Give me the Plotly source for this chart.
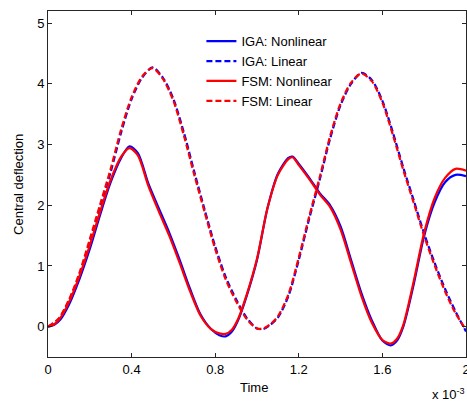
import plotly.graph_objects as go

# Time in units of 1e-3 s
t_iga_nl = [0, 0.03, 0.06, 0.1, 0.15, 0.2, 0.25, 0.3, 0.35, 0.39, 0.43, 0.48, 0.53, 0.58, 0.63, 0.68,
            0.73, 0.78, 0.82, 0.85, 0.88, 0.91, 0.95, 1.0, 1.05, 1.1, 1.15, 1.17, 1.2, 1.25, 1.3, 1.35,
            1.4, 1.45, 1.5, 1.55, 1.6, 1.64, 1.67, 1.7, 1.75, 1.8, 1.85, 1.9, 1.95, 2.0]
v_iga_nl = [0.0, 0.03, 0.12, 0.36, 0.78, 1.28, 1.85, 2.38, 2.78, 2.97, 2.86, 2.36, 1.95, 1.55, 1.1, 0.62,
            0.2, -0.04, -0.14, -0.16, -0.08, 0.11, 0.5, 1.1, 1.95, 2.52, 2.78, 2.8, 2.68, 2.45, 2.2, 2.0,
            1.65, 1.1, 0.55, 0.1, -0.23, -0.31, -0.23, 0.0, 0.7, 1.5, 2.05, 2.38, 2.5, 2.48]

t_fsm_nl = [0, 0.03, 0.06, 0.1, 0.15, 0.2, 0.25, 0.3, 0.35, 0.39, 0.43, 0.48, 0.53, 0.58, 0.63, 0.68,
            0.73, 0.78, 0.82, 0.85, 0.88, 0.91, 0.95, 1.0, 1.05, 1.1, 1.15, 1.17, 1.2, 1.25, 1.3, 1.35,
            1.4, 1.45, 1.5, 1.55, 1.6, 1.64, 1.67, 1.7, 1.75, 1.8, 1.85, 1.9, 1.95, 2.0]
v_fsm_nl = [0.0, 0.04, 0.15, 0.4, 0.83, 1.34, 1.9, 2.42, 2.8, 2.94, 2.82, 2.32, 1.9, 1.5, 1.05, 0.58,
            0.18, -0.04, -0.11, -0.12, -0.05, 0.13, 0.52, 1.12, 1.95, 2.5, 2.76, 2.79, 2.66, 2.43, 2.18, 1.97,
            1.6, 1.05, 0.5, 0.06, -0.22, -0.28, -0.2, 0.03, 0.75, 1.55, 2.12, 2.45, 2.6, 2.57]

t_iga_lin = [0, 0.05, 0.1, 0.15, 0.2, 0.25, 0.3, 0.35, 0.4, 0.45, 0.5, 0.55, 0.6, 0.65, 0.7, 0.75,
             0.8, 0.85, 0.9, 0.95, 1.0, 1.03, 1.06, 1.1, 1.15, 1.2, 1.25, 1.3, 1.35, 1.4, 1.45, 1.5,
             1.55, 1.6, 1.65, 1.7, 1.75, 1.8, 1.85, 1.9, 1.95, 2.0]
v_iga_lin = [0.0, 0.12, 0.42, 0.85, 1.4, 1.98, 2.55, 3.2, 3.75, 4.1, 4.27, 4.1, 3.75, 3.2, 2.55, 1.92,
             1.32, 0.82, 0.45, 0.15, -0.03, -0.04, 0.02, 0.15, 0.5, 1.1, 1.78, 2.42, 3.1, 3.65, 4.0, 4.18,
             4.06, 3.72, 3.2, 2.62, 2.08, 1.53, 1.05, 0.62, 0.25, -0.08]

t_fsm_lin = [0, 0.05, 0.1, 0.15, 0.2, 0.25, 0.3, 0.35, 0.4, 0.45, 0.5, 0.55, 0.6, 0.65, 0.7, 0.75,
             0.8, 0.85, 0.9, 0.95, 1.0, 1.03, 1.06, 1.1, 1.15, 1.2, 1.25, 1.3, 1.35, 1.4, 1.45, 1.5,
             1.55, 1.6, 1.65, 1.7, 1.75, 1.8, 1.85, 1.9, 1.95, 2.0]
v_fsm_lin = [0.0, 0.13, 0.44, 0.88, 1.44, 2.02, 2.6, 3.25, 3.78, 4.12, 4.26, 4.08, 3.72, 3.15, 2.5, 1.88,
             1.28, 0.78, 0.42, 0.13, -0.03, -0.03, 0.03, 0.17, 0.53, 1.14, 1.82, 2.46, 3.14, 3.68, 4.02, 4.17,
             4.04, 3.69, 3.16, 2.58, 2.04, 1.49, 1.01, 0.58, 0.22, -0.05]

x_tickvals = [0, 0.4, 0.8, 1.2, 1.6, 2.0]
x_ticktext = ["0", "0.4", "0.8", "1.2", "1.6", "2"]
y_tickvals = [0, 1, 2, 3, 4, 5]

BLUE = "#0000ff"
RED = "#ff0000"
FONT = "Liberation Sans, Arial, sans-serif"

fig = go.Figure()
fig.add_trace(go.Scatter(x=t_iga_nl, y=v_iga_nl, mode="lines", name="IGA: Nonlinear",
                         line=dict(color=BLUE, width=2.2, shape="spline", smoothing=0.8)))
fig.add_trace(go.Scatter(x=t_iga_lin, y=v_iga_lin, mode="lines", name="IGA: Linear",
                         line=dict(color=BLUE, width=2.2, dash="6px,3px", shape="spline", smoothing=0.8)))
fig.add_trace(go.Scatter(x=t_fsm_nl, y=v_fsm_nl, mode="lines", name="FSM: Nonlinear",
                         line=dict(color=RED, width=2.2, shape="spline", smoothing=0.8)))
fig.add_trace(go.Scatter(x=t_fsm_lin, y=v_fsm_lin, mode="lines", name="FSM: Linear",
                         line=dict(color=RED, width=2.2, dash="6px,3px", shape="spline", smoothing=0.8)))

axis_common = dict(showline=True, linecolor="#262626", linewidth=1, mirror="ticks",
                   ticks="inside", ticklen=4, tickcolor="#262626", showgrid=False, zeroline=False,
                   automargin=False, ticklabeloverflow="allow",
                   tickfont=dict(family=FONT, size=13, color="#000000"))

fig.update_layout(
    width=467, height=403,
    margin=dict(l=48, r=1, t=11, b=46),
    paper_bgcolor="white", plot_bgcolor="white",
    font=dict(family=FONT, size=13, color="#000000"),
    xaxis=dict(range=[0, 2.0], tickvals=x_tickvals, ticktext=x_ticktext, **axis_common),
    yaxis=dict(range=[-0.5, 5.2], tickvals=y_tickvals, **axis_common),
    legend=dict(x=0.367, y=0.956, xanchor="left", yanchor="top", bgcolor="rgba(0,0,0,0)",
                font=dict(family=FONT, size=13), tracegroupgap=0),
    showlegend=True,
)

fig.add_annotation(text="Time", xref="paper", yref="paper", x=0.494, y=-0.089,
                   xanchor="center", yanchor="middle", showarrow=False,
                   font=dict(family=FONT, size=13, color="#000000"))
fig.add_annotation(text="Central deflection", xref="paper", yref="paper", x=-0.072, y=0.5,
                   xanchor="center", yanchor="middle", textangle=-90, showarrow=False,
                   font=dict(family=FONT, size=13, color="#000000"))
fig.add_annotation(text="x 10<sup>-3</sup>", xref="paper", yref="paper", x=1.003, y=-0.078,
                   xanchor="right", yanchor="top", showarrow=False,
                   font=dict(family=FONT, size=13, color="#000000"))

# Remove the page's default body margin so the 467x403 figure fills the window exactly
fig.write_html("out.html", config={"displayModeBar": False},
               post_script="document.body.style.margin='0';document.body.style.overflow='hidden';")
